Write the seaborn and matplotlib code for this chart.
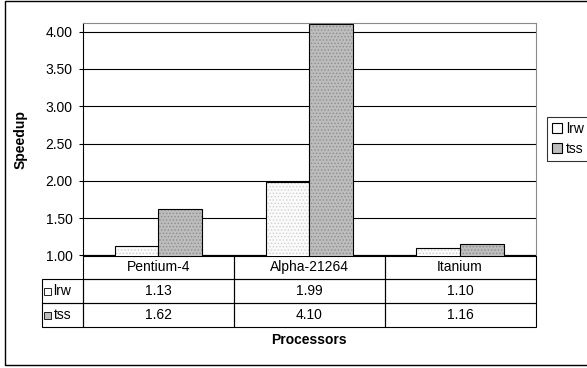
import numpy as np
import pandas as pd
import matplotlib
matplotlib.use('Agg')
import matplotlib.pyplot as plt
from matplotlib.patches import Rectangle
import matplotlib.colors as mcolors
import seaborn as sns

# ── Data ───────────────────────────────────────────────────────────────────────
processors = ['Pentium-4', 'Alpha-21264', 'Itanium']
lrw = [1.13, 1.99, 1.10]
tss = [1.62, 4.10, 1.16]
series = ['lrw', 'tss']
yticks = [1.00, 1.50, 2.00, 2.50, 3.00, 3.50, 4.00]

colors = {'lrw': '#fbfbfb', 'tss': '#bdbdbd'}
dots = {'lrw': '#cfcfcf', 'tss': '#8c8c8c'}

df = pd.DataFrame({
    'Processors': processors * 2,
    'series': ['lrw'] * len(lrw) + ['tss'] * len(tss),
    'Speedup': lrw + tss,
})

plt.rcParams['font.family'] = ['Liberation Sans', 'DejaVu Sans']
plt.rcParams['font.size'] = 10
plt.rcParams['hatch.linewidth'] = 0.6

W, H = 587, 368
fig = plt.figure(figsize=(W / 100, H / 100), dpi=100)

# plot area in pixels
x0, x1, y_top, y_bot = 83, 535.5, 22.7, 255.5
ax = fig.add_axes([x0 / W, 1 - y_bot / H, (x1 - x0) / W, (y_bot - y_top) / H])

sns.barplot(data=df, x='Processors', y='Speedup', hue='series', order=processors,
            hue_order=series, palette=colors, width=0.58, edgecolor='black',
            linewidth=0.8, saturation=1, ax=ax, zorder=3)

# fine dotted texture like the original fills
for cont, name in zip(ax.containers, series):
    for bar in cont:
        bar.set_hatch('.....')
        bar._hatch_color = mcolors.to_rgba(dots[name])

ax.set_ylim(1.0, 4.12)
ax.set_yticks(yticks)
ax.set_yticklabels([f'{v:.2f}' for v in yticks], fontsize=10)
ax.yaxis.grid(True, color='black', linewidth=0.8)
ax.set_axisbelow(True)
ax.tick_params(axis='y', length=3, width=0.8, pad=4.5)
ax.tick_params(axis='x', length=0, labelbottom=False)
for s in ['top', 'right']:
    ax.spines[s].set_color('#8a8a8a')
for s in ['left', 'bottom']:
    ax.spines[s].set_color('black')
    ax.spines[s].set_linewidth(0.8)

ax.set_ylabel('Speedup', fontsize=10, fontweight='bold')
ax.yaxis.set_label_coords((28 - x0) / (x1 - x0), 0.5)
ax.set_xlabel('Processors', fontsize=10, fontweight='bold')
ax.xaxis.set_label_coords(0.5, (y_bot - 340) / (y_bot - y_top))
ax.xaxis.label.set_va('center')

# ── Data table under the axis ─────────────────────────────────────────────────
tl, tb = 42, 327
cell_text = [[name] + [f'{v:.2f}' for v in vals] for name, vals in zip(series, [lrw, tss])]
col_w = [x0 - tl] + [(x1 - x0) / 3] * 3
tbl = ax.table(cellText=cell_text, colLabels=[''] + processors,
               colWidths=[w / sum(col_w) for w in col_w], cellLoc='center',
               bbox=[(tl - x0) / (x1 - x0), (y_bot - tb) / (y_bot - y_top),
                     (x1 - tl) / (x1 - x0), (tb - y_bot) / (y_bot - y_top)])
tbl.auto_set_font_size(False)
tbl.set_fontsize(10)
for (r, c), cell in tbl.get_celld().items():
    cell.set_edgecolor('black')
    cell.set_linewidth(0.8)
    cell.set_facecolor('none')
    if r == 0 and c == 0:
        cell.visible_edges = ''
    if r > 0 and c == 0:
        cell._loc = 'left'
        cell.PAD = 0.29

# small legend keys inside the row-label cells
for i, name in enumerate(series):
    yc = (y_bot + (tb - y_bot) / 3 * (i + 1.5))
    fig.add_artist(Rectangle((44 / W, 1 - (yc + 3.5) / H), 7 / W, 7 / H,
                             facecolor=colors[name], edgecolor='black',
                             linewidth=0.6, transform=fig.transFigure))

# ── Legend on the right ───────────────────────────────────────────────────────
handles, labels = ax.get_legend_handles_labels()
ax.get_legend().remove()
leg = fig.legend(handles, labels, loc='upper left',
                 bbox_to_anchor=(547 / W, 1 - 117 / H), frameon=True,
                 fancybox=False, edgecolor='black', fontsize=10,
                 handlelength=0.7, handleheight=0.7, handletextpad=0.3,
                 borderpad=0.35, labelspacing=0.45, borderaxespad=0)
leg.get_frame().set_linewidth(0.8)

# outer chart border
fig.add_artist(Rectangle((4.5 / W, 3 / H), 1.2, (H - 3.5) / H, facecolor='none',
                         edgecolor='black', linewidth=1.0,
                         transform=fig.transFigure, clip_on=False))

fig.savefig('out.png', dpi=100)
